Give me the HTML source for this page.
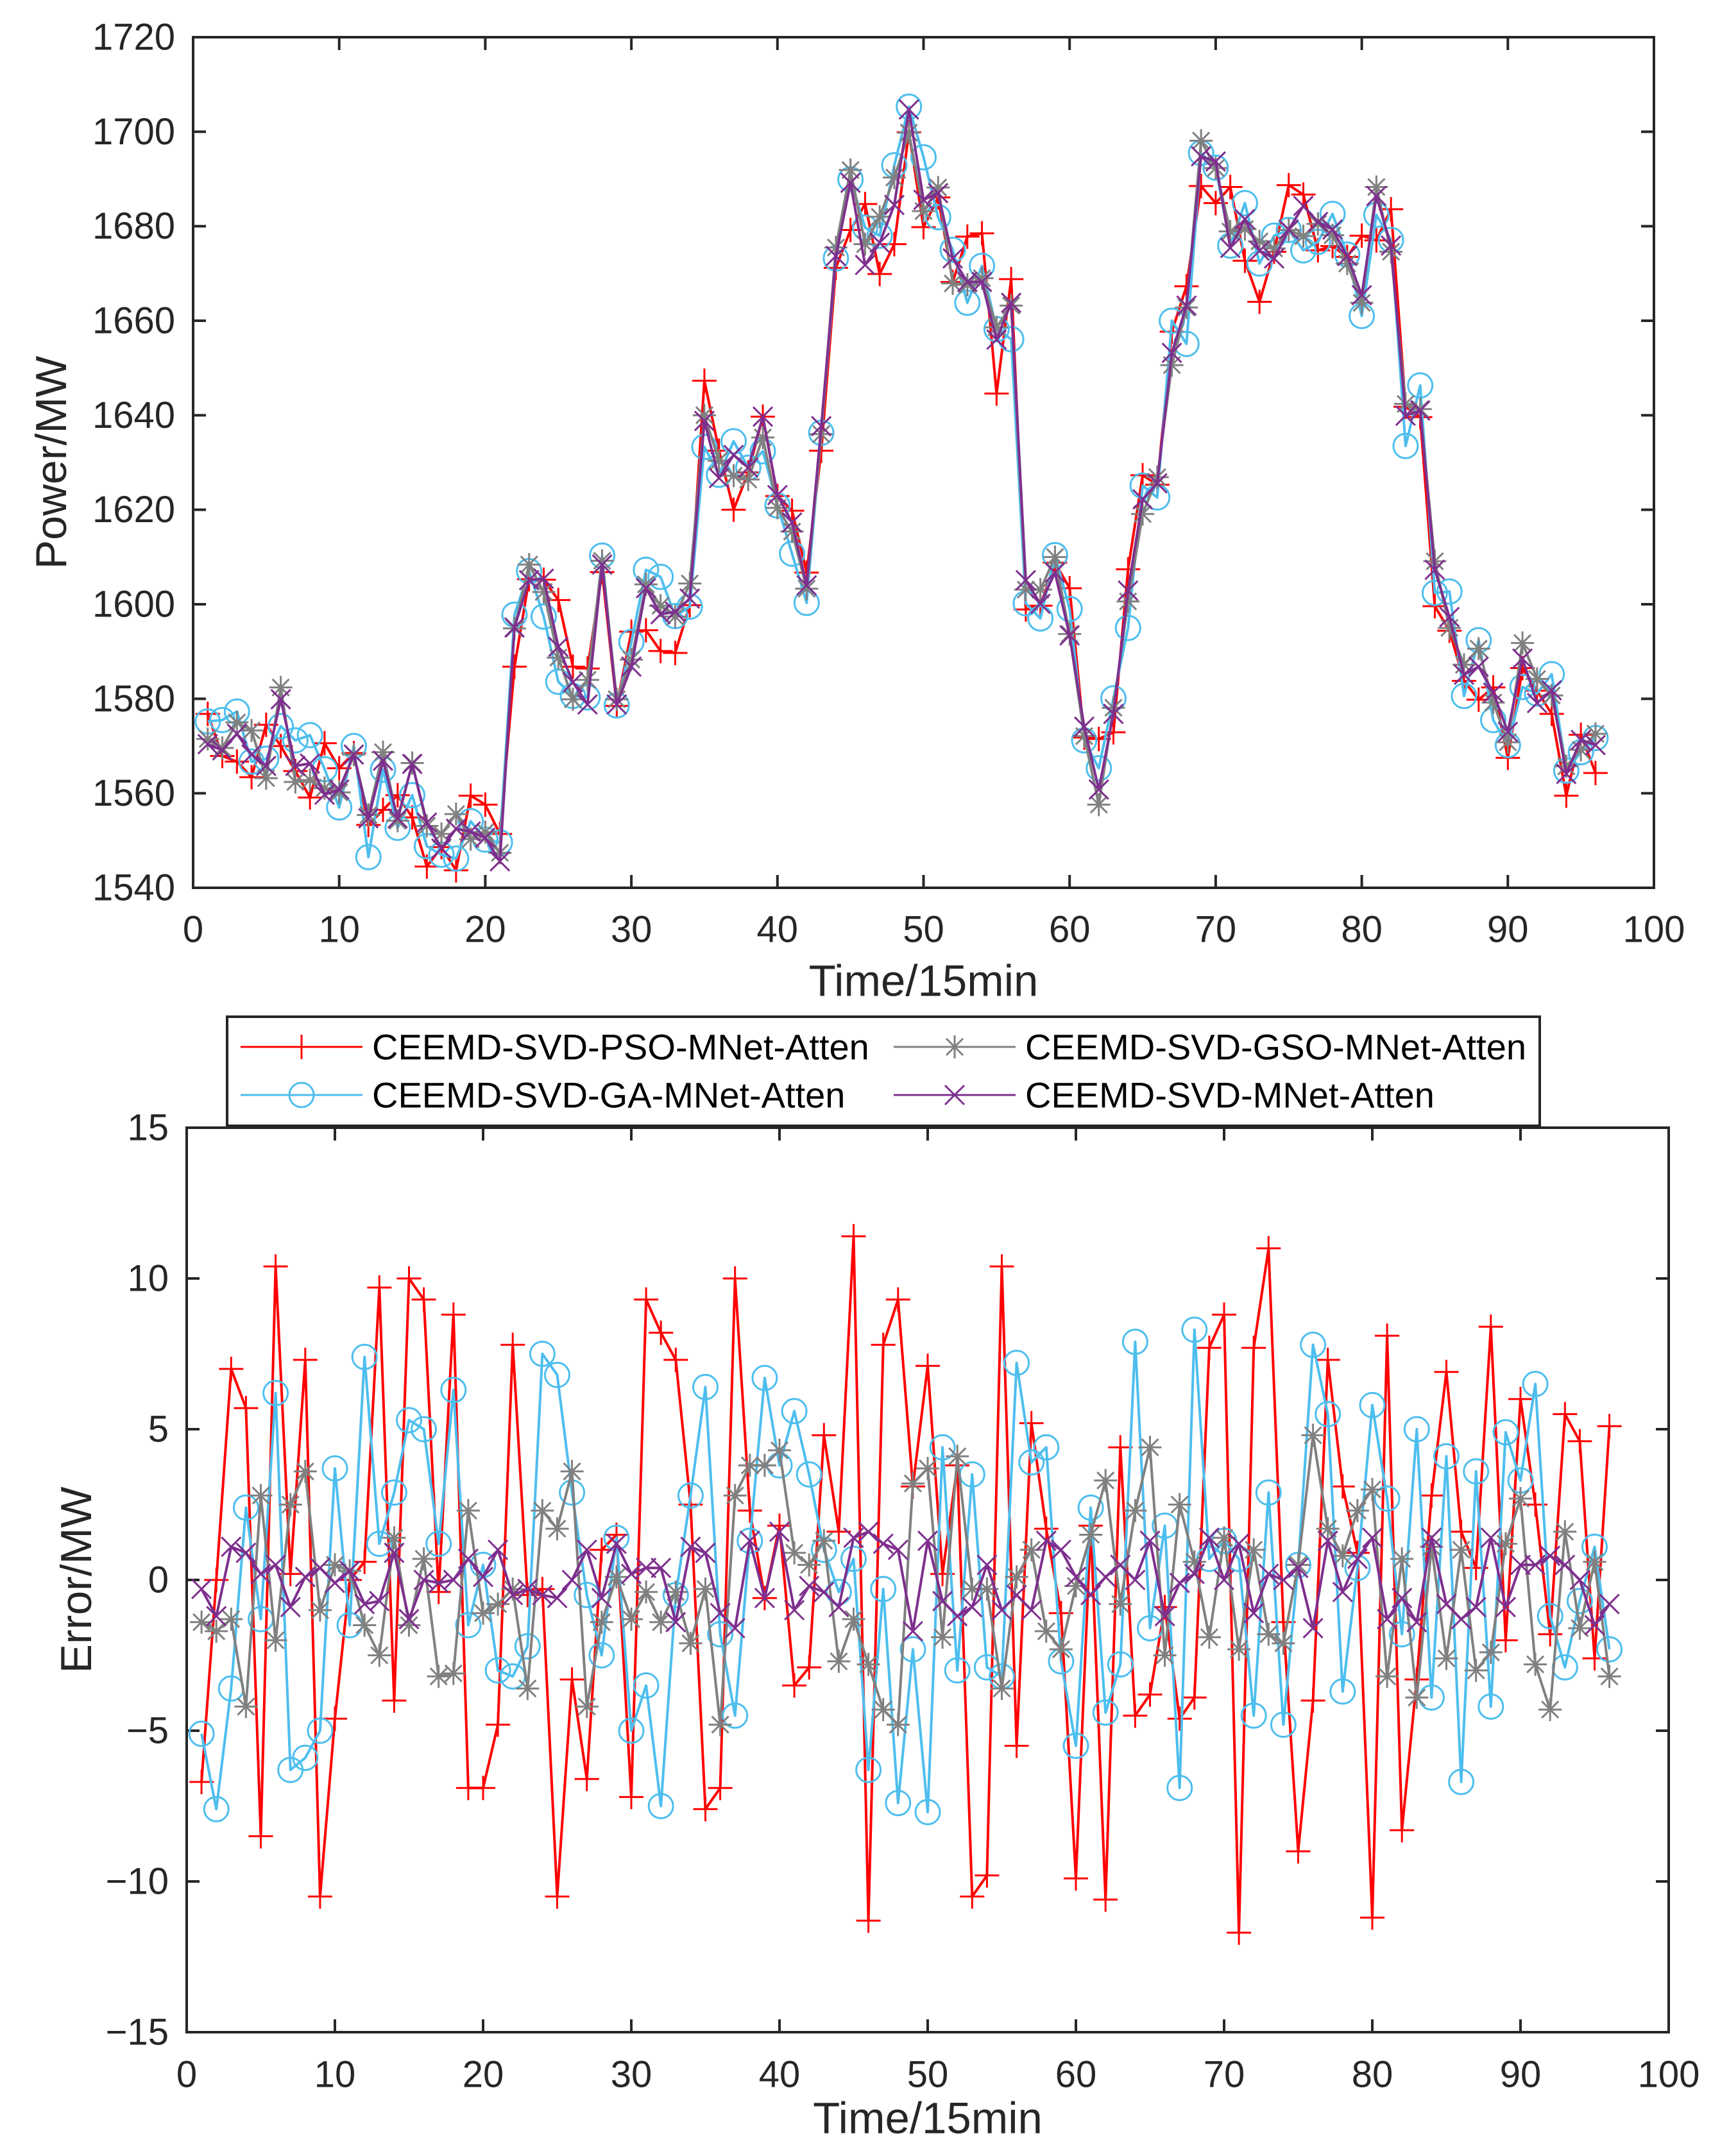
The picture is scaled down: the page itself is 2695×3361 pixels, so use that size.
<!DOCTYPE html>
<html><head><meta charset="utf-8"><style>
html,body{margin:0;padding:0;background:#fff;}
svg{display:block;font-family:"Liberation Sans",Arial,sans-serif;}
</style></head><body>
<svg id="fig" width="2695" height="3361" viewBox="0 0 2695 3361" xmlns="http://www.w3.org/2000/svg">
<rect width="2695" height="3361" fill="#fff"/>
<g id="top"></g>
<g id="bot"></g>
<g id="legend"></g>
</svg>
<script>
const timeSteps = Array.from({length:96},(_,i)=>i+1);
const actualLoad = [1570.1,1567.9,1573.7,1569.1,1566.0,1580.4,1564.9,1566.4,1560.1,1560.7,1568.5,1553.9,1566.2,1555.6,1564.9,1553.8,1548.2,1552.5,1552.6,1550.7,1546.6,1594.6,1604.8,1604.9,1590.4,1583.5,1579.8,1607.8,1580.0,1587.0,1603.8,1598.3,1597.0,1602.3,1639.7,1625.6,1630.0,1630.2,1639.1,1624.7,1616.3,1603.8,1637.3,1672.8,1690.6,1673.4,1677.7,1685.5,1703.0,1686.9,1686.3,1672.0,1667.3,1668.7,1655.0,1663.3,1604.1,1601.4,1607.7,1593.5,1573.6,1560.9,1577.3,1602.9,1623.5,1624.4,1653.1,1663.4,1696.2,1693.7,1676.6,1680.4,1675.0,1673.2,1679.7,1682.7,1682.2,1678.9,1674.4,1666.8,1685.1,1675.3,1638.5,1642.4,1606.5,1596.0,1584.2,1588.2,1580.4,1573.5,1589.0,1579.9,1582.3,1564.1,1569.8,1569.4];
const errPSO = [-6.7,0.0,7.0,5.7,-8.5,10.4,0.2,7.3,-10.5,-4.6,0.0,0.6,9.7,-4.0,10.0,9.3,-0.4,8.8,-6.9,-6.9,-4.8,7.8,-0.5,-0.3,-10.5,-3.3,-6.6,1.0,1.5,-7.2,9.3,8.2,7.3,2.5,-7.6,-6.9,10.0,2.3,-0.6,1.8,-3.5,-2.9,4.8,1.6,11.4,-11.3,7.8,9.3,3.1,7.1,0.2,3.8,-10.5,-9.8,10.4,-5.5,5.2,1.7,-1.1,-9.9,1.8,-10.6,4.4,-4.5,-3.8,-0.9,-4.6,-3.9,7.7,8.8,-11.7,7.7,11.0,-1.4,-9.0,-4.0,7.3,3.1,0.9,-11.2,8.1,-8.3,-3.3,2.8,6.9,1.6,0.4,8.4,-2.0,6.0,2.5,-1.8,5.5,4.6,-2.6,5.1];
const errGA = [-5.1,-7.6,-3.6,2.4,-1.3,6.2,-6.3,-5.9,-5.0,3.7,-1.5,7.4,1.2,2.9,5.3,5.0,1.2,6.3,-1.5,0.5,-3.0,-3.2,-2.2,7.5,6.8,2.9,-0.5,-2.5,1.4,-5.0,-3.5,-7.5,-0.5,2.8,6.4,-1.8,-4.5,1.3,6.7,3.8,5.6,3.5,1.0,-0.4,0.7,-6.3,-0.3,-7.4,-2.3,-7.7,4.4,-3.0,3.5,-2.9,-3.2,7.2,3.9,4.4,-2.7,-5.5,2.4,-4.4,-2.8,7.9,-1.6,1.8,-6.9,8.3,0.7,1.3,0.7,-4.5,2.9,-4.8,0.5,7.8,5.5,-3.7,0.4,5.8,2.7,-1.8,5.0,-3.9,4.1,-6.7,3.6,-4.2,4.9,3.3,6.5,-1.2,-2.9,-0.7,1.1,-2.3];
const errGSO = [-1.4,-1.7,-1.3,-4.2,2.8,-2.0,2.5,3.6,-1.0,0.5,0.3,-1.5,-2.5,1.4,-1.5,0.7,-3.2,-3.1,2.3,-1.1,-0.8,-0.3,-3.6,2.3,1.7,3.6,-4.2,-1.4,0.1,-1.3,-0.4,-1.4,-0.4,-2.1,-0.3,-4.8,2.8,3.8,3.8,4.3,0.9,0.5,1.3,-2.7,-1.3,-2.8,-4.3,-4.8,3.2,3.7,-1.9,4.1,-0.3,-0.3,-3.6,0.1,1.0,-1.7,-2.3,-0.2,1.5,3.3,-0.8,2.3,4.4,-2.5,2.5,0.6,-1.9,1.4,-2.3,1.0,-1.8,-2.1,0.5,4.8,1.7,0.8,2.3,3.0,-3.2,0.7,-3.9,1.1,-2.6,1.0,-3.0,-2.4,1.2,2.7,-2.8,-4.3,1.6,-1.6,0.6,-3.2];
const errMNet = [-0.3,-1.2,1.1,0.9,0.2,0.5,-0.9,0.1,0.4,-0.1,0.3,-0.8,-0.7,0.9,-1.3,0.0,-0.1,0.0,0.7,0.1,1.0,-0.5,-0.3,-0.5,-0.6,0.0,1.0,-0.6,1.2,0.2,0.4,0.4,-1.4,1.1,0.9,-1.1,-1.6,1.3,-0.6,1.6,-1.0,-0.2,-0.4,-0.9,1.4,1.6,1.2,1.0,-1.7,1.3,-0.7,-1.2,-0.9,0.5,-1.0,-0.5,-1.0,1.3,1.0,0.1,-0.5,0.1,0.5,0.0,1.3,-1.2,-0.1,0.2,1.4,0.0,1.2,-1.1,0.2,0.0,0.4,-1.6,1.3,-0.4,0.7,1.4,-1.3,-0.6,-1.4,1.4,-0.8,-1.3,-0.9,1.4,-0.9,0.5,0.5,0.8,0.5,0.0,-1.5,-0.8];
const xTicks = [0,10,20,30,40,50,60,70,80,90,100];
const powerTicks = [1540,1560,1580,1600,1620,1640,1660,1680,1700,1720];
const errTicks = [-15,-10,-5,0,5,10,15];
const errTickLabels = ["\u221215","\u221210","\u22125","0","5","10","15"];
const seriesNames = ["CEEMD-SVD-PSO-MNet-Atten","CEEMD-SVD-GA-MNet-Atten","CEEMD-SVD-GSO-MNet-Atten","CEEMD-SVD-MNet-Atten"];

const NS="http://www.w3.org/2000/svg";
function mk(tag,attrs,parent){const e=document.createElementNS(NS,tag);for(const k in attrs)e.setAttribute(k,attrs[k]);parent.appendChild(e);return e;}
const styles=[{c:"#ff0000",m:"plus",key:"pso"},{c:"#4dbeee",m:"circle",key:"ga"},{c:"#808080",m:"star",key:"gso"},{c:"#7e2f8e",m:"x",key:"mnet"}];
function marker(g,type,x,y,c){
  const w=3;
  if(type==="plus"){return mk("path",{d:`M${x-19},${y}H${x+19}M${x},${y-19}V${y+19}`,stroke:c,"stroke-width":w,fill:"none"},g);}
  if(type==="circle"){return mk("circle",{cx:x,cy:y,r:19,stroke:c,"stroke-width":w,fill:"none"},g);}
  if(type==="x"){return mk("path",{d:`M${x-15},${y-15}L${x+15},${y+15}M${x-15},${y+15}L${x+15},${y-15}`,stroke:c,"stroke-width":w,fill:"none"},g);}
  return mk("path",{d:`M${x-18},${y}H${x+18}M${x},${y-18}V${y+18}M${x-13},${y-13}L${x+13},${y+13}M${x-13},${y+13}L${x+13},${y-13}`,stroke:c,"stroke-width":w,fill:"none"},g);
}
function axes(g,box,xmin,xmax,ymin,ymax,yt,ytl,ylab,ylabX,xlabY,tickLabY){
  const sx=v=>box.l+(v-xmin)/(xmax-xmin)*(box.r-box.l);
  const sy=v=>box.b-(v-ymin)/(ymax-ymin)*(box.b-box.t);
  return {sx,sy,draw(){
    const fr=mk("rect",{x:box.l,y:box.t,width:box.r-box.l,height:box.b-box.t,fill:"none",stroke:"#262626","stroke-width":4},g);
    
    
    xTicks.forEach(v=>{const x=sx(v);
      mk("path",{d:`M${x},${box.b}V${box.b-20}M${x},${box.t}V${box.t+20}`,stroke:"#262626","stroke-width":4},g);
      const t=mk("text",{x:x,y:tickLabY,"font-size":58,"text-anchor":"middle","dominant-baseline":"central",fill:"#262626"},g);t.textContent=v;
      
      
    });
    yt.forEach((v,i)=>{const y=sy(v);
      mk("path",{d:`M${box.l},${y}H${box.l+20}M${box.r},${y}H${box.r-20}`,stroke:"#262626","stroke-width":4},g);
      const t=mk("text",{x:box.l-28,y:y,"font-size":58,"text-anchor":"end","dominant-baseline":"central",fill:"#262626"},g);t.textContent=ytl[i];
      
      
    });
    const xl=mk("text",{x:(box.l+box.r)/2,y:xlabY,"font-size":69,"text-anchor":"middle","dominant-baseline":"central",fill:"#262626"},g);xl.textContent="Time/15min";
    
    
    const yl=mk("text",{x:ylabX,y:(box.t+box.b)/2,"font-size":68,"text-anchor":"middle","dominant-baseline":"central",fill:"#262626",transform:`rotate(-90 ${ylabX} ${(box.t+box.b)/2})`},g);yl.textContent=ylab;
    
    
  }};
}
function series(g,ax,vals,st){
  const sg=mk("g",{},g);
  
  
  const pts=vals.map((v,i)=>[ax.sx(timeSteps[i]),ax.sy(v)]);
  const pl=mk("polyline",{points:pts.map(p=>p.join(",")).join(" "),fill:"none",stroke:st.c,"stroke-width":4,"stroke-linejoin":"round"},sg);
  
  
  pts.forEach(p=>{const m=marker(sg,st.m,p[0],p[1],st.c);
    
    });
}
const errs=[errPSO,errGA,errGSO,errMNet];
// top chart
const gt=document.getElementById("top");
const at=axes(gt,{l:301,r:2578,t:58,b:1384},0,100,1540,1720,powerTicks,powerTicks,"Power/MW",80,1529,1449);
at.draw();
errs.forEach((e,k)=>series(gt,at,actualLoad.map((a,i)=>a-e[i]),styles[k]));
// bottom chart
const gb=document.getElementById("bot");
const ab=axes(gb,{l:291,r:2601,t:1758,b:3168},0,100,-15,15,errTicks,errTickLabels,"Error/MW",119,3302,3234);
ab.draw();
errs.forEach((e,k)=>series(gb,ab,e,styles[k]));
// legend
const gl=document.getElementById("legend");
const lb=mk("rect",{x:354,y:1585,width:2046,height:170,fill:"#fff",stroke:"#262626","stroke-width":4},gl);


const legPos=[[375,1632,0],[1393,1632,2],[375,1707,1],[1393,1707,3]];
legPos.forEach(([x,y,k])=>{
  const eg=mk("g",{},gl);
  
  
  mk("line",{x1:x,y1:y,x2:x+190,y2:y,stroke:styles[k].c,"stroke-width":3},eg);
  marker(eg,styles[k].m,x+95,y,styles[k].c);
  const t=mk("text",{x:x+205,y:y,"font-size":56,"dominant-baseline":"central",fill:"#000"},eg);t.textContent=seriesNames[k];
});
</script>
</body></html>
